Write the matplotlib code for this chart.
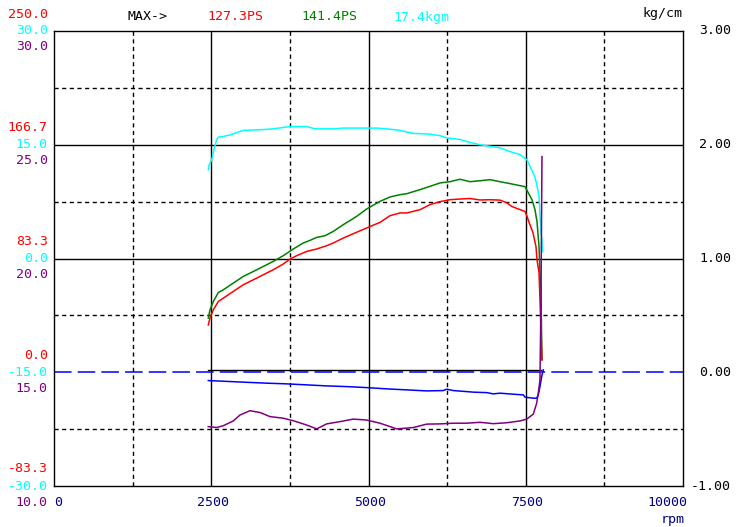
import matplotlib
matplotlib.use("Agg")
import matplotlib.pyplot as plt
from matplotlib.transforms import blended_transform_factory, ScaledTranslation

# ---- data ----
red_rpm = [2453, 2480, 2533, 2612, 2692, 2850, 3010, 3168, 3327, 3486, 3645, 3752, 3858, 4017, 4176,
           4335, 4440, 4599, 4758, 4971, 5183, 5342, 5501, 5607, 5819, 5978, 6137, 6296, 6455, 6614,
           6773, 6932, 7091, 7197, 7276, 7382, 7488, 7520, 7567, 7615, 7663, 7679, 7711, 7726, 7742, 7758]
red_ps = [34.7, 39.7, 45.7, 51.8, 54.3, 59.2, 64.1, 67.7, 71.4, 75.1, 79.3, 82.9, 85.4, 88.5, 90.3,
          92.7, 94.7, 98.3, 101.5, 105.7, 109.8, 114.7, 116.7, 116.7, 119.1, 122.8, 125.0, 126.4, 126.9, 127.3,
          126.2, 126.4, 126.1, 124.2, 121.5, 119.6, 117.8, 114.2, 108.1, 102.2, 92.0, 82.4, 72.9, 53.1, 31.1, 9.1]

green_rpm = [2453, 2480, 2533, 2612, 2692, 2850, 3010, 3168, 3327, 3486, 3645, 3804, 3963, 4070, 4176,
             4308, 4440, 4599, 4812, 4971, 5183, 5342, 5501, 5607, 5819, 5978, 6137, 6296, 6455, 6614,
             6773, 6932, 7091, 7250, 7408, 7488, 7599, 7647, 7679, 7711, 7726, 7742, 7750, 7758]
green_ps = [39.7, 45.7, 51.8, 58.4, 60.4, 65.3, 70.2, 73.8, 77.5, 81.2, 85.4, 90.3, 94.7, 96.6, 98.8,
            100.0, 103.2, 108.1, 114.2, 119.6, 125.2, 128.4, 130.1, 130.8, 133.8, 136.2, 138.7, 139.6, 141.4, 139.6,
            140.3, 141.1, 139.6, 138.2, 136.7, 136.0, 126.4, 119.1, 110.3, 92.0, 72.9, 62.6, 33.3, 9.1]

torque_rpm = [2453, 2469, 2507, 2544, 2587, 2612, 2692, 2798, 2905, 3010, 3327, 3486, 3752, 3858, 4017,
              4149, 4440, 4599, 4971, 5130, 5289, 5501, 5712, 5978, 6137, 6243, 6455, 6614, 6773, 7091,
              7250, 7409, 7520, 7599, 7647, 7679, 7711, 7726, 7742, 7758, 7769]
torque_kgm = [11.7, 12.4, 13.0, 14.4, 15.7, 16.0, 16.1, 16.3, 16.6, 16.9, 17.0, 17.1, 17.4, 17.4, 17.4,
              17.1, 17.1, 17.2, 17.2, 17.2, 17.1, 16.9, 16.5, 16.4, 16.2, 15.9, 15.7, 15.3, 15.0, 14.6,
              14.1, 13.7, 13.0, 11.6, 10.7, 9.6, 8.2, 5.8, 3.5, 2.5, 0.9]

afr_rpm = [2453, 2587, 2692, 2850, 2957, 3116, 3275, 3434, 3645, 3804, 4017, 4176, 4335, 4547, 4758,
           4971, 5183, 5448, 5712, 5925, 6137, 6349, 6560, 6773, 6984, 7197, 7409, 7515, 7620, 7674,
           7699, 7726, 7742, 7758]
afr = [12.61, 12.57, 12.65, 12.86, 13.12, 13.31, 13.23, 13.05, 12.98, 12.87, 12.68, 12.51, 12.73, 12.83, 12.94,
       12.90, 12.76, 12.51, 12.57, 12.72, 12.73, 12.76, 12.76, 12.80, 12.74, 12.78, 12.86, 12.94, 13.16, 13.64,
       14.08, 14.66, 18.18, 24.48]

boost_rpm = [2453, 3010, 3381, 3699, 4017, 4335, 4653, 4971, 5289, 5607, 5925, 6189, 6243, 6349, 6560,
             6666, 6879, 6984, 7091, 7302, 7461, 7488, 7620, 7674, 7699, 7726, 7753, 7779]
boost = [-0.073, -0.087, -0.096, -0.102, -0.111, -0.120, -0.126, -0.135, -0.146, -0.155, -0.164, -0.161,
         -0.149, -0.161, -0.170, -0.175, -0.179, -0.190, -0.184, -0.193, -0.199, -0.219, -0.228, -0.228,
         -0.199, -0.126, -0.038, 0.021]

loss_rpm = [2453, 7740]
loss_ps = [1.5, 1.5]

ps_ticks = [250.0, 166.7, 83.3, 0.0, -83.3]
tq_ticks = [30.0, 15.0, 0.0, -15.0, -30.0]
afr_ticks = [30.0, 25.0, 20.0, 15.0, 10.0]
boost_ticks = [3.0, 2.0, 1.0, 0.0, -1.0]
rpm_ticks = [0, 2500, 5000, 7500, 10000]

max_labels = ["127.3PS", "141.4PS", "17.4kgm"]

RED = "#ff0000"
GREEN = "#008000"
CYAN = "#00ffff"
PURPLE = "#800080"
BLUE = "#0000ff"
NAVY = "#000080"
FONT = "DejaVu Sans Mono"
FS = 9.5

W, H = 747, 527
fig = plt.figure(figsize=(W / 100, H / 100), dpi=100)
ax = fig.add_axes([54 / W, 41 / H, 629 / W, 455 / H])
ax.set_xlim(0, 10000)
ax.set_ylim(-1, 3)
ax.set_xticks([])
ax.set_yticks([])
for s in ax.spines.values():
    s.set_linewidth(1.0)

ax_ps = ax.twinx()
ax_ps.set_ylim(-250 / 3, 250)
ax_tq = ax.twinx()
ax_tq.set_ylim(-30, 30)
ax_afr = ax.twinx()
ax_afr.set_ylim(10, 30)
for a in (ax_ps, ax_tq, ax_afr):
    a.set_axis_off()

# grid
for xv in [1250, 3750, 6250, 8750]:
    ax.axvline(xv, color="black", lw=1.0, dashes=(3, 2.5), zorder=1)
for xv in [2500, 5000, 7500]:
    ax.axvline(xv, color="black", lw=1.0, zorder=1)
for yv in [2.5, 1.5, 0.5, -0.5]:
    ax.axhline(yv, color="black", lw=1.0, dashes=(3, 2.5), zorder=1)
for yv in [2.0, 1.0]:
    ax.axhline(yv, color="black", lw=1.0, zorder=1)
ax.axhline(0, color=BLUE, lw=1.1, dashes=(11.5, 4), zorder=2)

# curves
ax_ps.plot(loss_rpm, loss_ps, color="black", lw=1.0)
ax.plot(boost_rpm, boost, color=BLUE, lw=1.1)
ax_afr.plot(afr_rpm, afr, color=PURPLE, lw=1.1)
ax_tq.plot(torque_rpm, torque_kgm, color=CYAN, lw=1.1)
ax_ps.plot(green_rpm, green_ps, color=GREEN, lw=1.1)
ax_ps.plot(red_rpm, red_ps, color=RED, lw=1.1)

# left scale labels, three stacked sets
lx = -0.010
for a, ticks, col, dy, fmt in [(ax_ps, ps_ticks, RED, 17, "%.1f"),
                               (ax_tq, tq_ticks, CYAN, 0, "%.1f"),
                               (ax_afr, afr_ticks, PURPLE, -16, "%.1f")]:
    tr = blended_transform_factory(ax.transAxes, a.transData) + \
        ScaledTranslation(0, dy / 100, fig.dpi_scale_trans)
    for t in ticks:
        ax.text(lx, t, fmt % t, transform=tr, ha="right", va="center",
                color=col, family=FONT, fontsize=FS)

# right scale labels
tr_r = blended_transform_factory(ax.transAxes, ax.transData)
for t in boost_ticks:
    ax.text((731 - 54) / 629, t, "%.2f" % t, transform=tr_r, ha="right", va="center",
            color="black", family=FONT, fontsize=FS)

# rpm labels
tr_x = blended_transform_factory(ax.transData, ax.transAxes)
for t in rpm_ticks:
    ha = "center"
    xo = t + 20
    if t == rpm_ticks[0]:
        ha, xo = "left", t
    elif t == rpm_ticks[-1]:
        ha, xo = "right", t + 70
    ax.text(xo, -16 / 455, "%d" % t, transform=tr_x, ha=ha, va="center",
            color=NAVY, family=FONT, fontsize=FS)

fig.text(685 / W, 1 - 519 / H, "rpm", ha="right", va="center", color=NAVY,
         family=FONT, fontsize=FS)
fig.text(683 / W, 1 - 13 / H, "kg/cm", ha="right", va="center", color="black",
         family=FONT, fontsize=FS)

# header with max values
fig.text(128 / W, 1 - 17 / H, "MAX->", ha="left", va="center", color="black",
         family=FONT, fontsize=FS)
for xp, txt, col in zip([207, 301, 393], max_labels, [RED, GREEN, CYAN]):
    fig.text(xp / W, 1 - 17 / H, txt, ha="left", va="center", color=col,
             family=FONT, fontsize=FS)

fig.savefig("out.png", dpi=100, facecolor="white")
